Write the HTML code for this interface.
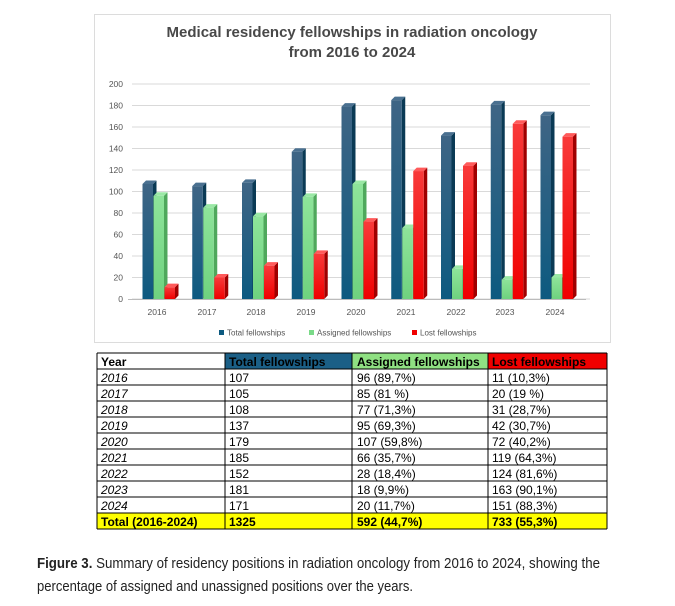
<!DOCTYPE html>
<html><head><meta charset="utf-8"><style>
body{margin:0;background:#fff;width:675px;height:606px;overflow:hidden;font-family:"Liberation Sans",sans-serif}
svg{position:absolute;left:0;top:0}
</style></head><body>
<svg width="675" height="606" viewBox="0 0 675 606" xmlns="http://www.w3.org/2000/svg" font-family="Liberation Sans, sans-serif">
<defs>
<linearGradient id="gb" x1="0" y1="0" x2="0" y2="1"><stop offset="0" stop-color="#3f6585"/><stop offset="1" stop-color="#0d5a80"/></linearGradient>
<linearGradient id="gg" x1="0" y1="0" x2="0" y2="1"><stop offset="0" stop-color="#8ee49a"/><stop offset="1" stop-color="#6fd27f"/></linearGradient>
<linearGradient id="gr" x1="0" y1="0" x2="0" y2="1"><stop offset="0" stop-color="#f83a3a"/><stop offset="1" stop-color="#f00000"/></linearGradient>
</defs>
<rect x="94.5" y="14.5" width="516" height="328" fill="#fff" stroke="#dcdcdc"/>
<text x="352" y="37" text-anchor="middle" font-size="15" font-weight="bold" fill="#484848">Medical residency fellowships in radiation oncology</text>
<text x="352" y="57" text-anchor="middle" font-size="15" font-weight="bold" fill="#484848">from 2016 to 2024</text>
<g id="grid" stroke="#d9d9d9" stroke-width="1"></g>
<g font-size="8.5" fill="#555" text-anchor="end">
<text x="123" y="302">0</text><text x="123" y="280.5">20</text><text x="123" y="259">40</text><text x="123" y="237.5">60</text><text x="123" y="216">80</text><text x="123" y="194.5">100</text><text x="123" y="173">120</text><text x="123" y="151.5">140</text><text x="123" y="130">160</text><text x="123" y="108.5">180</text><text x="123" y="87">200</text>
</g>
<g id="bars"></g>
<g font-size="8.5" fill="#555" text-anchor="middle">
<text x="157" y="315">2016</text><text x="207" y="315">2017</text><text x="256" y="315">2018</text><text x="306" y="315">2019</text><text x="356" y="315">2020</text><text x="406" y="315">2021</text><text x="456" y="315">2022</text><text x="505" y="315">2023</text><text x="555" y="315">2024</text>
</g>
<g font-size="8" fill="#555">
<rect x="219" y="330" width="5" height="5" fill="#0d5a80"/><text x="227" y="335.5">Total fellowships</text>
<rect x="309" y="330" width="5" height="5" fill="#7ada88"/><text x="317" y="335.5">Assigned fellowships</text>
<rect x="412" y="330" width="5" height="5" fill="#f00000"/><text x="420" y="335.5">Lost fellowships</text>
</g>
<rect x="225" y="353" width="127" height="16" fill="#1b5f86"/>
<rect x="352" y="353" width="136" height="16" fill="#8fe082"/>
<rect x="488" y="353" width="119" height="16" fill="#f00000"/>
<rect x="97" y="513" width="510" height="16" fill="#ffff00"/>
<g id="tlines" stroke="#000" stroke-width="1"></g>
<g font-size="12" fill="#000">
<g font-weight="bold"><text x="101" y="366">Year</text><text x="229" y="366">Total fellowships</text><text x="357" y="366">Assigned fellowships</text><text x="492" y="366">Lost fellowships</text></g>
<g font-style="italic"><text x="101" y="382">2016</text><text x="101" y="398">2017</text><text x="101" y="414">2018</text><text x="101" y="430">2019</text><text x="101" y="446">2020</text><text x="101" y="462">2021</text><text x="101" y="478">2022</text><text x="101" y="494">2023</text><text x="101" y="510">2024</text></g>
<text x="229" y="382">107</text><text x="229" y="398">105</text><text x="229" y="414">108</text><text x="229" y="430">137</text><text x="229" y="446">179</text><text x="229" y="462">185</text><text x="229" y="478">152</text><text x="229" y="494">181</text><text x="229" y="510">171</text>
<text x="357" y="382">96 (89,7%)</text><text x="357" y="398">85 (81 %)</text><text x="357" y="414">77 (71,3%)</text><text x="357" y="430">95 (69,3%)</text><text x="357" y="446">107 (59,8%)</text><text x="357" y="462">66 (35,7%)</text><text x="357" y="478">28 (18,4%)</text><text x="357" y="494">18 (9,9%)</text><text x="357" y="510">20 (11,7%)</text>
<text x="492" y="382">11 (10,3%)</text><text x="492" y="398">20 (19 %)</text><text x="492" y="414">31 (28,7%)</text><text x="492" y="430">42 (30,7%)</text><text x="492" y="446">72 (40,2%)</text><text x="492" y="462">119 (64,3%)</text><text x="492" y="478">124 (81,6%)</text><text x="492" y="494">163 (90,1%)</text><text x="492" y="510">151 (88,3%)</text>
<g font-weight="bold"><text x="101" y="526">Total (2016-2024)</text><text x="229" y="526">1325</text><text x="357" y="526">592 (44,7%)</text><text x="492" y="526">733 (55,3%)</text></g>
</g>
<g font-size="15" fill="#222">
<text x="37" y="568" textLength="563" lengthAdjust="spacingAndGlyphs"><tspan font-weight="bold">Figure 3.</tspan> Summary of residency positions in radiation oncology from 2016 to 2024, showing the</text>
<text x="37" y="591" textLength="376" lengthAdjust="spacingAndGlyphs">percentage of assigned and unassigned positions over the years.</text>
</g>
</svg>
<script>
var NS="http://www.w3.org/2000/svg";
function el(p,t,a){var e=document.createElementNS(NS,t);for(var k in a)e.setAttribute(k,a[k]);p.appendChild(e);return e;}
var g=document.getElementById('grid');
for(var i=0;i<=10;i++){var y=299-i*21.5;el(g,'line',{x1:132,x2:590,y1:y,y2:y});}
el(g,'line',{x1:128,x2:586,y1:299.5,y2:299.5,stroke:'#bbb'});
var T=[107,105,108,137,179,185,152,181,171],A=[96,85,77,95,107,66,28,18,20],L=[11,20,31,42,72,119,124,163,151];
var b=document.getElementById('bars');
var cols=[["url(#gb)","#0a3a55","#4a7090"],["url(#gg)","#4fa85c","#9ae8a5"],["url(#gr)","#a00000","#ff5a5a"]];
function bar(x,v,c){var w=10.5,d=3.5,y0=299,h=v*1.075,yt=y0-h;
el(b,'polygon',{points:(x+w)+','+yt+' '+(x+w+d)+','+(yt-d)+' '+(x+w+d)+','+(y0-d)+' '+(x+w)+','+y0,fill:c[1]});
el(b,'polygon',{points:x+','+yt+' '+(x+d)+','+(yt-d)+' '+(x+w+d)+','+(yt-d)+' '+(x+w)+','+yt,fill:c[2]});
el(b,'rect',{x:x,y:yt,width:w,height:h,fill:c[0]});}
for(var i=0;i<9;i++){var c=157+i*49.75;bar(c-14.5,T[i],cols[0]);bar(c-3.5,A[i],cols[1]);bar(c+7.5,L[i],cols[2]);}
var t=document.getElementById('tlines');
var xs=[97,225,352,488,607];
for(var i=0;i<=11;i++){var y=353+i*16;el(t,'line',{x1:97,x2:607,y1:y,y2:y});}
xs.forEach(function(x){el(t,'line',{x1:x,x2:x,y1:353,y2:529});});
</script>
</body></html>
